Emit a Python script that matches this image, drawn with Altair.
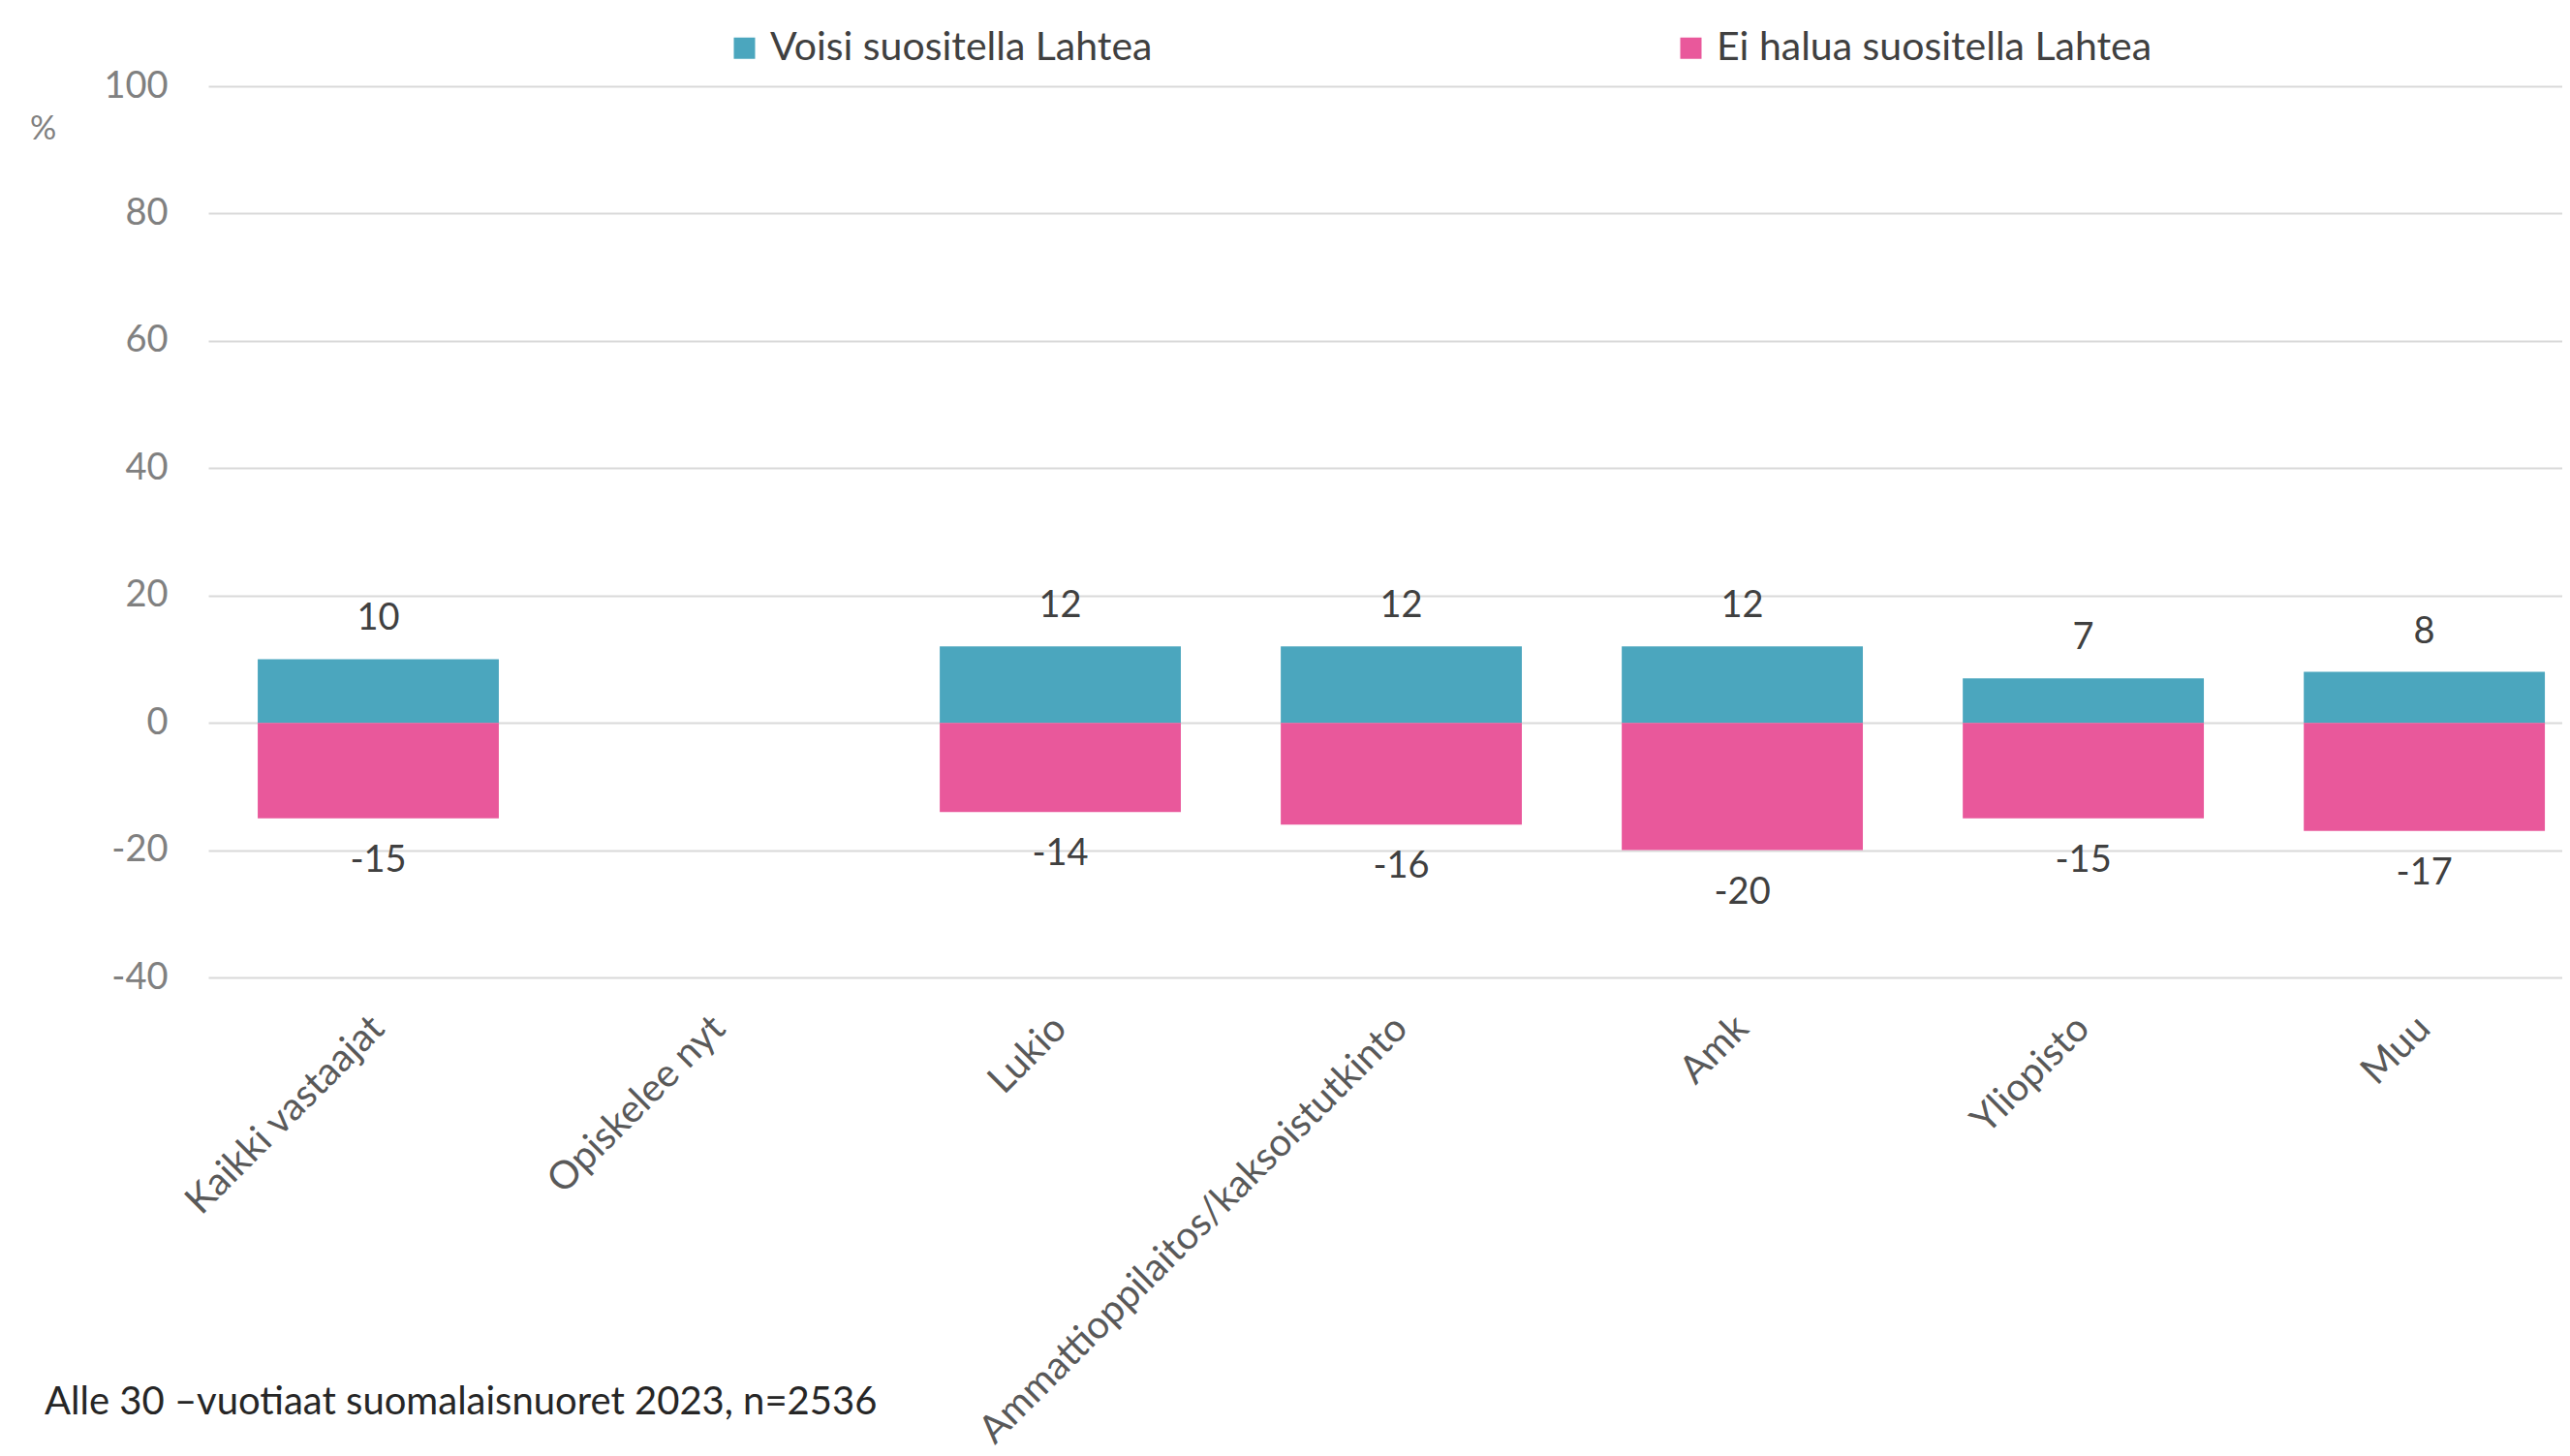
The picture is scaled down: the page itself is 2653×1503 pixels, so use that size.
import altair as alt
import pandas as pd

categories = ["Kaikki vastaajat", "Opiskelee nyt", "Lukio",
              "Ammattioppilaitos/kaksoistutkinto", "Amk", "Yliopisto", "Muu"]
series_names = ["Voisi suositella Lahtea", "Ei halua suositella Lahtea"]
voisi = [10, None, 12, 12, 12, 7, 8]
ei_halua = [-15, None, -14, -16, -20, -15, -17]
y_ticks = [-40, -20, 0, 20, 40, 60, 80, 100]
footnote = ["Alle 30 \u2013vuotiaat suomalaisnuoret 2023, n=2536"]
colors = ["#4BA6BE", "#E9589B"]

rows = []
for c, v, e in zip(categories, voisi, ei_halua):
    rows.append({"cat": c, "series": series_names[0], "value": v})
    rows.append({"cat": c, "series": series_names[1], "value": e})
df = pd.DataFrame(rows)

FONT = "Lato"

x_enc = alt.X(
    "cat:N",
    sort=categories,
    scale=alt.Scale(domain=categories, paddingInner=0.293, paddingOuter=0.098, align=0.74),
    axis=alt.Axis(
        title=None, labelAngle=-45, labelAlign="right", labelBaseline="middle",
        labelFontSize=40, labelColor="#595959", labelFont=FONT, labelPadding=46,
        domain=False, ticks=False, grid=False, labelLimit=1000,
    ),
)
y_enc = alt.Y(
    "value:Q",
    scale=alt.Scale(domain=[-40, 100], nice=False, zero=False),
    axis=alt.Axis(
        values=y_ticks, title="%", titleAngle=0, titleX=-171, titleY=44,
        titleAlign="center", titleBaseline="middle", titleFontSize=34,
        titleFontWeight="normal", titleColor="#808080", titleFont=FONT,
        labelFontSize=38, labelColor="#808080", labelFont=FONT, labelPadding=42,
        labelExpr="datum.value + ''",
        domain=False, ticks=False, grid=True, gridColor="#D9D9D9", gridWidth=2,
    ),
)

base = alt.Chart(df).transform_filter(
    "isValid(datum.value) && datum.value !== null"
).transform_calculate(lbl="datum.value + ''")

bars = base.mark_bar().encode(
    x=x_enc,
    y=y_enc,
    color=alt.Color(
        "series:N",
        sort=series_names,
        scale=alt.Scale(domain=series_names, range=colors),
        legend=alt.Legend(
            title=None, orient="none", direction="horizontal",
            legendX=533, legendY=-60, symbolType="square", symbolSize=484,
            symbolStrokeWidth=0, labelFontSize=41, labelFont=FONT,
            labelColor="#404040", labelLimit=1000, columnPadding=535,
            labelOffset=6, padding=0,
        ),
    ),
)

pos_labels = base.transform_filter("datum.value > 0").mark_text(
    baseline="middle", dy=-41, fontSize=38, font=FONT, color="#404040"
).encode(x=x_enc, y=y_enc, text="lbl:N")

neg_labels = base.transform_filter("datum.value < 0").mark_text(
    baseline="middle", dy=44, fontSize=38, font=FONT, color="#404040"
).encode(x=x_enc, y=y_enc, text="lbl:N")

foot = alt.Chart(pd.DataFrame({"t": footnote})).mark_text(
    align="left", baseline="middle", fontSize=40, font=FONT, color="#262626"
).encode(x=alt.value(-169), y=alt.value(1359), text="t:N")

chart = alt.layer(bars, pos_labels, neg_labels, foot).properties(
    width=2430, height=920, background="white",
    padding={"left": 22, "top": 21, "right": 0, "bottom": 0},
).configure_view(stroke=None)

chart.save("out.html", embed_options={"renderer": "svg", "actions": False})
